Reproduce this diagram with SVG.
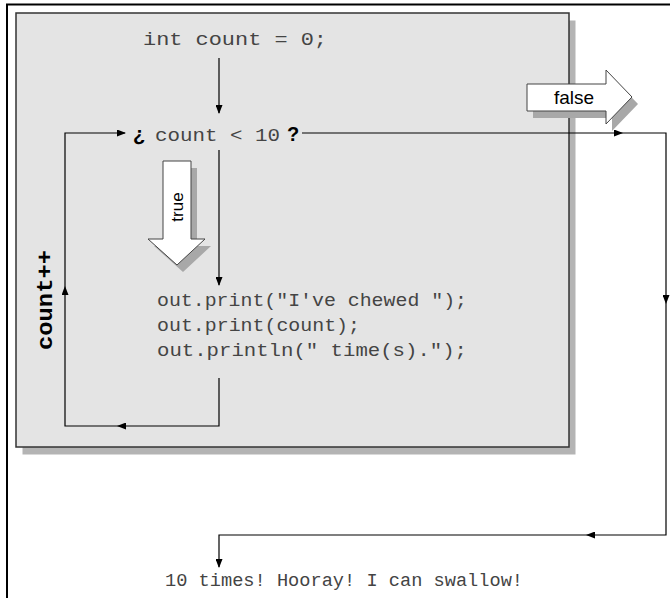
<svg xmlns="http://www.w3.org/2000/svg" width="670" height="598" viewBox="0 0 670 598">
<style>
.mono{font-family:"Liberation Mono","Courier New",monospace;font-size:19px;fill:#444}
.sans{font-family:"Liberation Sans",Arial,sans-serif;fill:#000}
.conn{fill:none;stroke:#000;stroke-width:1.2}
.blk{fill:#fff;stroke:#444;stroke-width:1}
.shd{fill:#a8a8a8}
</style>
<defs>
<marker id="ah" markerWidth="9" markerHeight="7" refX="8" refY="3.5" orient="auto" markerUnits="userSpaceOnUse">
<path d="M0,0 L9,3.5 L0,7 z" fill="#000"/>
</marker>
</defs>
<rect width="670" height="598" fill="#fff"/>
<g id="frame">
<path d="M7,598 V4.5 H670" fill="none" stroke="#000" stroke-width="2"/>
</g>
<g id="loop-box">
<rect x="22.5" y="20.5" width="553" height="434" fill="#b4b4b4"/>
<rect x="16" y="13" width="553" height="434" fill="#e4e4e4" stroke="#333" stroke-width="1.5"/>
</g>
<g id="false-arrow">
<polygon class="shd" points="533,91 612,91 612,77 638,104 612,131 612,118 533,118"/>
<polygon class="blk" points="527,84 606,84 606,70 632,97 606,124 606,111 527,111"/>
<text class="sans" x="574" y="104" font-size="19" text-anchor="middle">false</text>
</g>
<g id="init">
<text class="mono" x="143" y="45" textLength="184" lengthAdjust="spacingAndGlyphs">int count = 0;</text>
</g>
<g id="condition">
<text class="sans" x="133" y="141" font-size="20" font-weight="bold">¿</text>
<text class="mono" x="155" y="141" textLength="125" lengthAdjust="spacingAndGlyphs">count &lt; 10</text>
<text class="sans" x="287" y="141" font-size="20" font-weight="bold">?</text>
</g>
<g id="true-arrow">
<polygon class="shd" points="169,168 197,168 197,246 211,246 183,272 154,246 169,246"/>
<polygon class="blk" points="163,161 191,161 191,239 205,239 177,265 148,239 163,239"/>
<text class="sans" transform="translate(177,207) rotate(-90)" font-size="17" text-anchor="middle" dy="6">true</text>
</g>
<g id="body">
<text class="mono" x="157" y="306" textLength="310" lengthAdjust="spacingAndGlyphs">out.print("I've chewed ");</text>
<text class="mono" x="157" y="331" textLength="203" lengthAdjust="spacingAndGlyphs">out.print(count);</text>
<text class="mono" x="157" y="356" textLength="310" lengthAdjust="spacingAndGlyphs">out.println(" time(s).");</text>
</g>
<g id="increment">
<text transform="translate(52,300) rotate(-90)" text-anchor="middle" font-family="Liberation Mono, Courier New, monospace" font-weight="bold" font-size="22" textLength="100" lengthAdjust="spacingAndGlyphs" fill="#000">count++</text>
</g>
<g id="result">
<text class="mono" x="165" y="586" textLength="358" lengthAdjust="spacingAndGlyphs">10 times! Hooray! I can swallow!</text>
</g>
<g id="connectors">
<line class="conn" x1="219" y1="58" x2="219" y2="113" marker-end="url(#ah)"/>
<line class="conn" x1="219" y1="150" x2="219" y2="285" marker-end="url(#ah)"/>
<path class="conn" d="M219,378 V426 H118" marker-end="url(#ah)"/>
<path class="conn" d="M118,426 H65 V287" marker-end="url(#ah)"/>
<path class="conn" d="M65,287 V133 H125" marker-end="url(#ah)"/>
<path class="conn" d="M302,133 H622" marker-end="url(#ah)"/>
<path class="conn" d="M622,133 H666 V303" marker-end="url(#ah)"/>
<path class="conn" d="M666,303 V535 H587" marker-end="url(#ah)"/>
<path class="conn" d="M587,535 H219 V567" marker-end="url(#ah)"/>
</g>
</svg>
